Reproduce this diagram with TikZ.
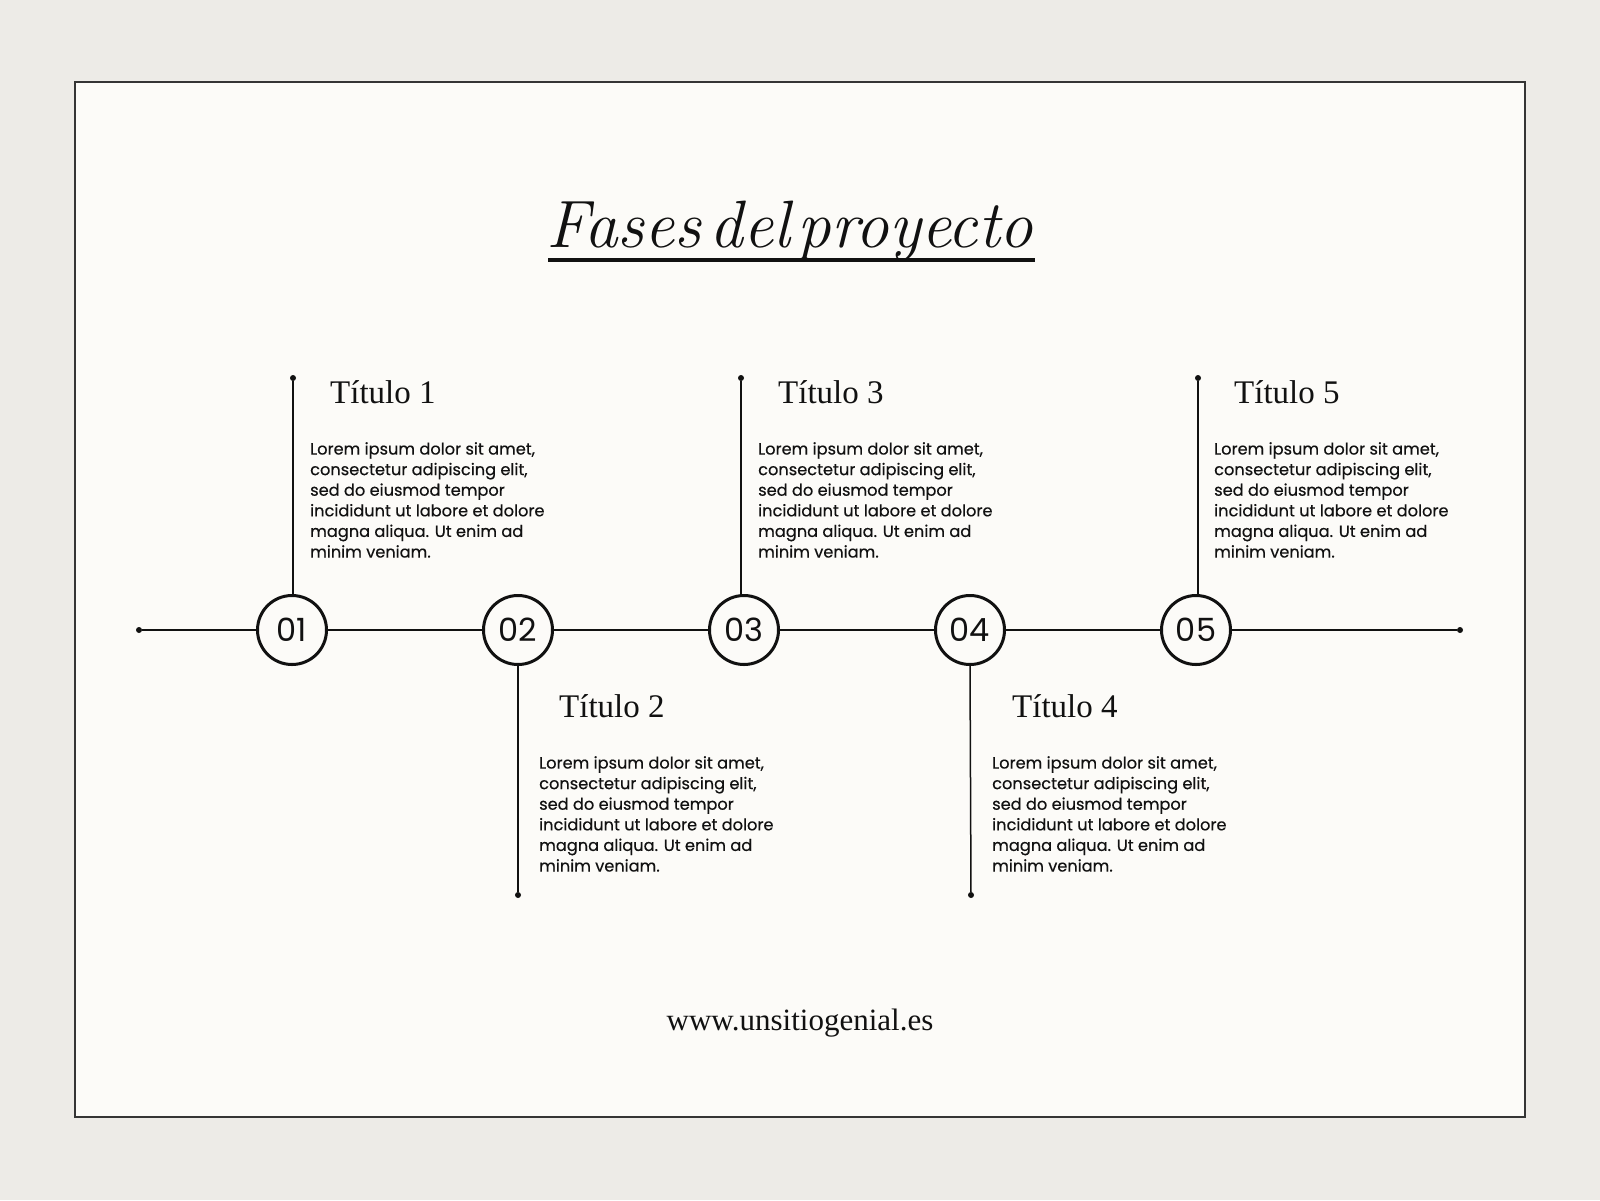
\documentclass[tikz,border=0pt]{standalone}
\usepackage{fontspec}
\newfontfamily\headfont{Liberation Serif}
\newfontfamily\bodyfont[FakeBold=0.4]{Poppins}
\newfontfamily\numfont{Poppins}
\usetikzlibrary{positioning}
\definecolor{paper}{HTML}{EDEBE7}
\definecolor{card}{HTML}{FCFBF8}
\definecolor{ink}{HTML}{111111}
\tikzset{
    phase/.style={
        circle,
        draw=ink,
        line width=3pt,
        fill=card,
        minimum size=69pt,
        inner sep=0pt,
        text=ink,
        font=\numfont\fontsize{32}{34}\selectfont,
    },
    heading/.style={
        anchor=base west,
        inner sep=0pt,
        text=ink,
        font=\headfont\fontsize{33}{36}\selectfont,
    },
    bodytext/.style={
        anchor=north west,
        inner sep=0pt,
        align=left,
        text=ink,
        font=\bodyfont\fontsize{16.2}{20.6}\selectfont,
    },
    stem/.style={draw=ink, line width=1.5pt},
    tip/.style={circle, fill=ink, inner sep=0pt, minimum size=6pt},
}
\newcommand{\lorem}{Lorem ipsum dolor sit amet,\\consectetur adipiscing elit,\\sed do eiusmod tempor\\incididunt ut labore et dolore\\magna aliqua. Ut enim ad\\minim veniam.}

\begin{document}
\begin{tikzpicture}[x=1pt,y=-1pt]
    % paper and card
    \fill[paper] (0,0) rectangle (1600,1200);
    \draw[fill=card, draw=ink!85, line width=1.5pt] (75,82) rectangle (1525,1117);

    % title
    \node[inner sep=0pt, anchor=base, text=ink, font=\itshape\fontsize{67}{70}\selectfont] (title) at (790,247) {Fases\hspace{8pt}del\hspace{8pt}proyecto};
    \draw[ink, line width=4pt] (548,260) -- (1035,260);

    % timeline
    \node[tip] (start) at (139,630) {};
    \node[tip] (end) at (1460,630) {};
    \draw[stem] (start) -- (end);
    \node[phase] (c1) at (292,630) {01};
    \node[phase] (c2) at (518,630) {02};
    \node[phase] (c3) at (744,630) {03};
    \node[phase] (c4) at (970,630) {04};
    \node[phase] (c5) at (1196,630) {05};

    % stems up
    \node[tip] (t1) at (293,378) {};
    \node[tip] (t3) at (741,378) {};
    \node[tip] (t5) at (1198,378) {};
    \draw[stem] (t1) -- (t1 |- c1.north);
    \draw[stem] (t3) -- (t3 |- c3.north);
    \draw[stem] (t5) -- (t5 |- c5.north);
    % stems down
    \node[tip] (t2) at (518,895) {};
    \node[tip] (t4) at (971,895) {};
    \draw[stem] (c2.south) -- (t2);
    \draw[stem] (c4.south) -- (t4);

    % texts
    \node[heading] (h1) at (330,403) {Título 1};
    \node[bodytext] (b1) at (310,442) {\lorem};
    \node[heading] (h2) at (559,717) {Título 2};
    \node[bodytext] (b2) at (539,756) {\lorem};
    \node[heading] (h3) at (778,403) {Título 3};
    \node[bodytext] (b3) at (758,442) {\lorem};
    \node[heading] (h4) at (1012,717) {Título 4};
    \node[bodytext] (b4) at (992,756) {\lorem};
    \node[heading] (h5) at (1234,403) {Título 5};
    \node[bodytext] (b5) at (1214,442) {\lorem};

    % footer
    \node[inner sep=0pt, anchor=base, text=ink, font=\headfont\fontsize{31}{32}\selectfont] (url) at (800,1030) {www.unsitiogenial.es};
\end{tikzpicture}
\end{document}
